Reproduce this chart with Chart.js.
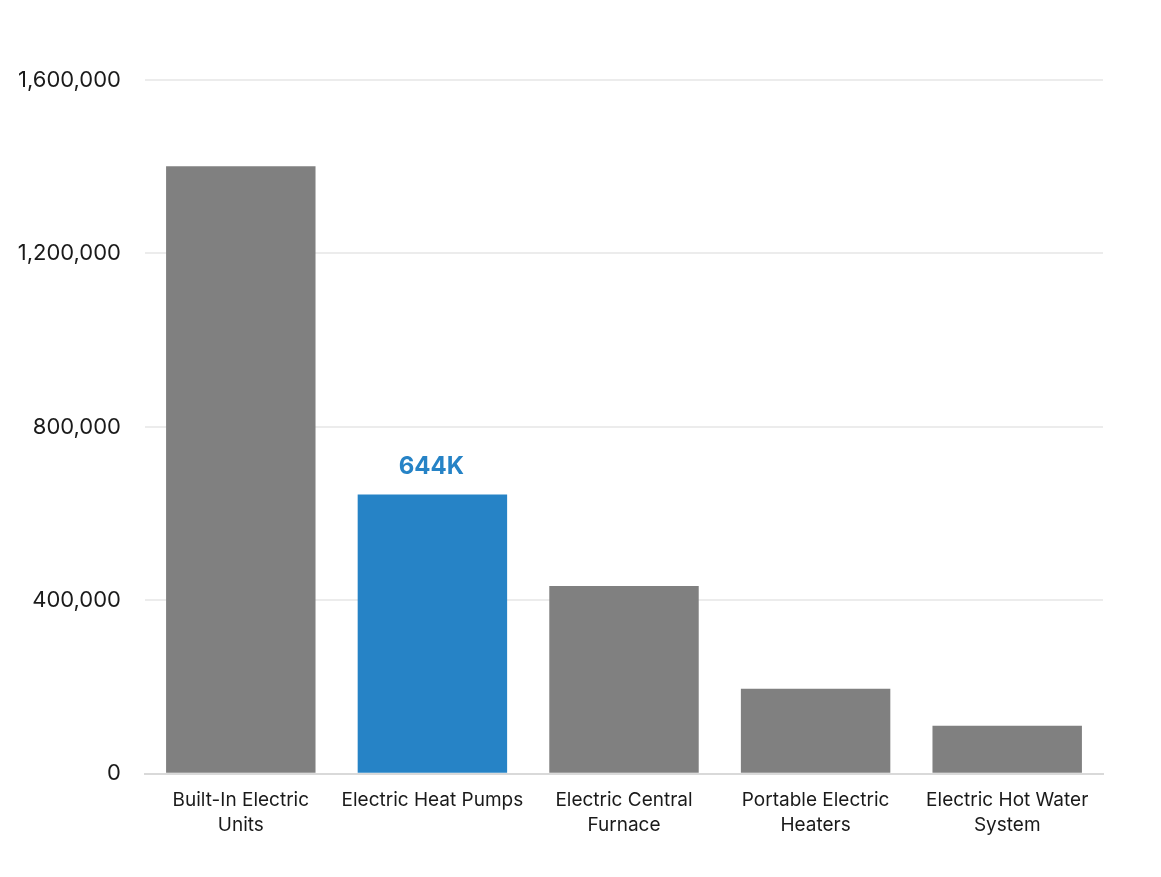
<!DOCTYPE html>
<html>
<head>
<meta charset="utf-8">
<script src="https://cdn.jsdelivr.net/npm/chart.js@4/dist/chart.umd.min.js"></script>
<style>
html,body{margin:0;padding:0;background:#fff;}
#wrap{width:1161px;height:877px;}
</style>
</head>
<body>
<div id="wrap"><canvas id="c" width="1161" height="877"></canvas></div>
<script>
const categories = [["Built-In Electric","Units"],"Electric Heat Pumps",["Electric Central","Furnace"],["Portable Electric","Heaters"],["Electric Hot Water","System"]];
const values = [1401000, 644000, 433000, 196000, 111000];
const highlightIndex = 1;
const highlightLabel = "644K";
const yTicks = [0, 400000, 800000, 1200000, 1600000];

const colors = values.map((v,i)=> i===highlightIndex ? '#2683C6' : '#808080');

const labelPlugin = {
  id:'hl',
  afterDatasetsDraw(chart){
    const meta = chart.getDatasetMeta(0);
    const bar = meta.data[highlightIndex];
    const ctx = chart.ctx;
    ctx.save();
    ctx.fillStyle = '#2683C6';
    ctx.font = 'bold 24px Inter, "Open Sans", sans-serif';
    ctx.textAlign = 'center';
    ctx.textBaseline = 'alphabetic';
    ctx.fillText(highlightLabel, bar.x - 1, bar.y - 21);
    ctx.restore();
  }
};

new Chart(document.getElementById('c'), {
  type:'bar',
  data:{labels:categories, datasets:[{data:values, backgroundColor:colors, barPercentage:0.78, categoryPercentage:1}]},
  options:{
    responsive:false, animation:false,
    layout:{padding:{top:80,right:58,bottom:25,left:0}},
    plugins:{legend:{display:false}, tooltip:{enabled:false}},
    scales:{
      x:{
        grid:{display:false, drawTicks:false},
        border:{display:true,color:'#d9d9d9',width:2},
        ticks:{color:'#1a1a1a', font:{family:'Inter, "Open Sans", sans-serif', size:19, lineHeight:1.32}, padding:14, maxRotation:0, autoSkip:false}
      },
      y:{
        min:0,max:1600000,
        afterBuildTicks(ax){ ax.ticks = yTicks.map(v=>({value:v})); },
        afterFit(ax){ ax.width = 145; },
        grid:{color:'#ececec', lineWidth:2, drawTicks:false},
        border:{display:false},
        ticks:{color:'#1a1a1a', padding:24, font:{family:'Inter, "Open Sans", sans-serif', size:22},
          callback:(v)=>v.toLocaleString('en-US')}
      }
    }
  },
  plugins:[labelPlugin]
});
</script>
</body>
</html>
